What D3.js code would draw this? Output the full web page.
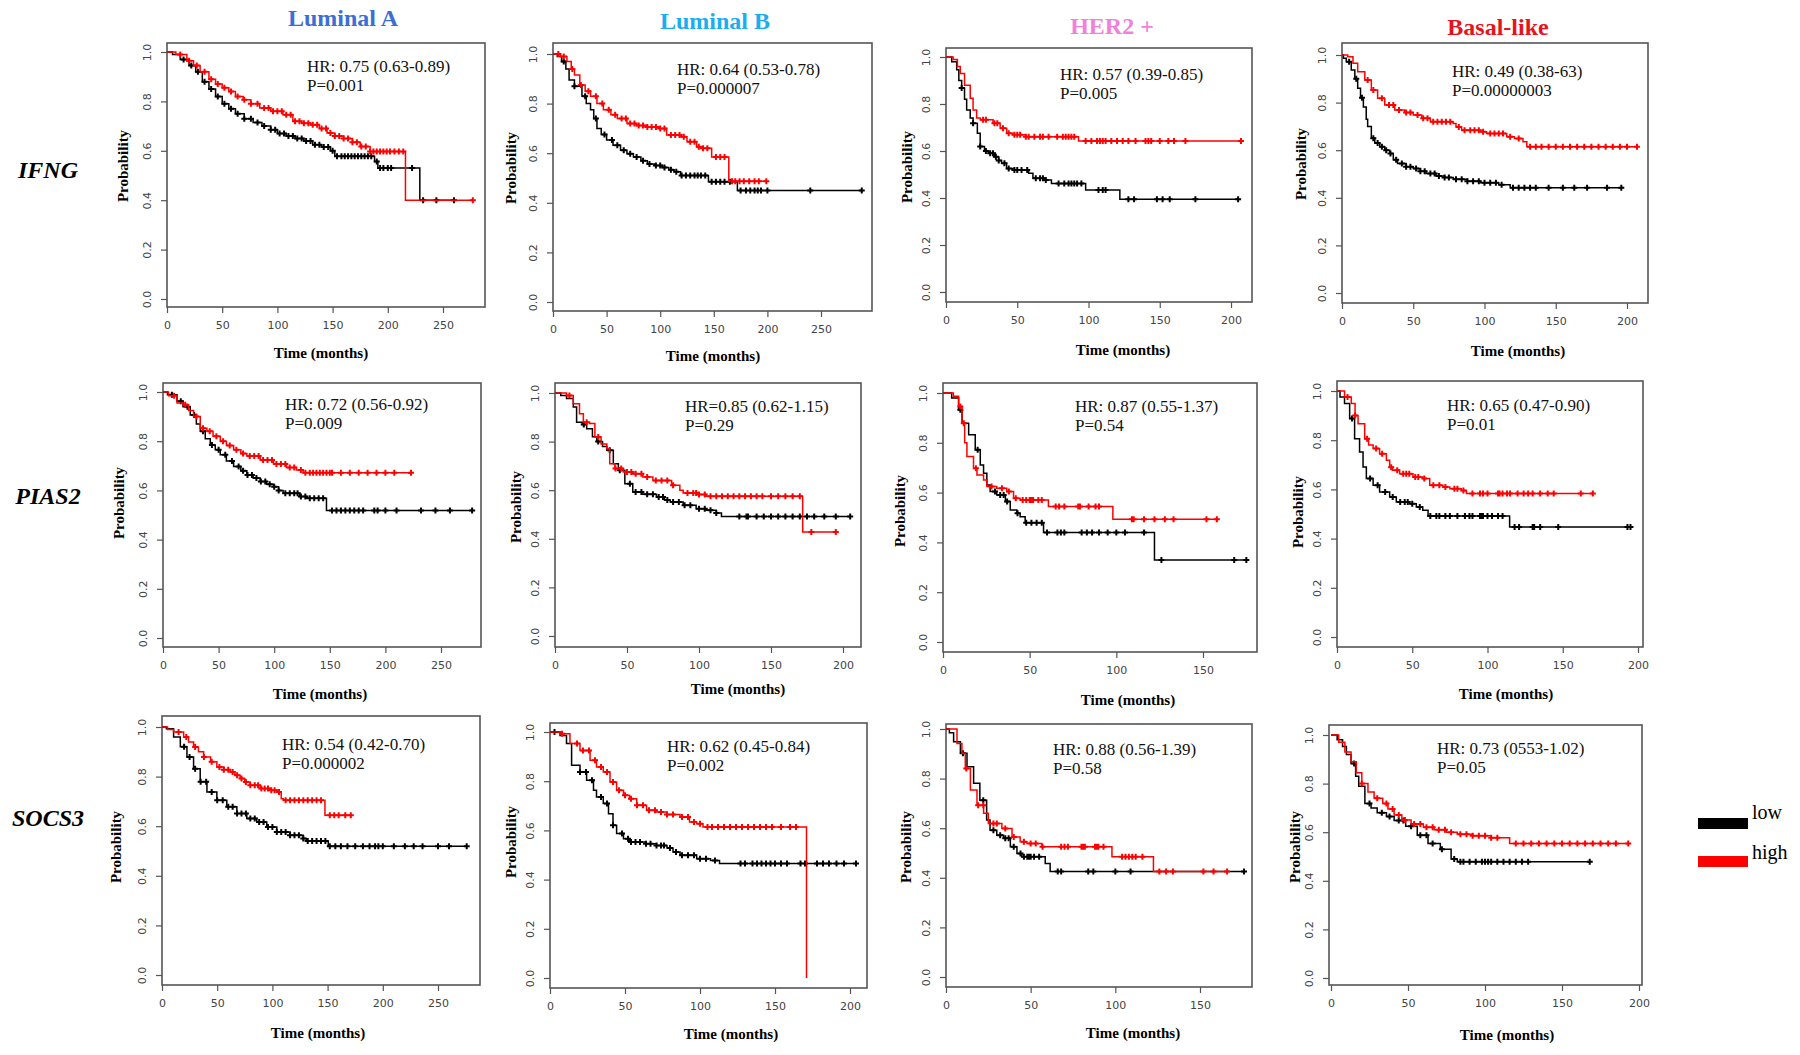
<!DOCTYPE html>
<html><head><meta charset="utf-8">
<script src="https://cdn.jsdelivr.net/npm/d3@7"></script>
<style>body{margin:0;background:#fff}</style>
</head><body>
<svg id="c" width="1800" height="1055"></svg>
<script>
// ---------------- DATA ----------------
const subtypes = ["Luminal A", "Luminal B", "HER2 +", "Basal-like"];
const genes = ["IFNG", "PIAS2", "SOCS3"];
const legendLabels = ["low", "high"];
const yTicks = [0, 0.2, 0.4, 0.6, 0.8, 1.0];
const xTicks250 = [0, 50, 100, 150, 200, 250];
const xTicks200 = [0, 50, 100, 150, 200];
const xTicks150 = [0, 50, 100, 150];
const panelXTicks = [xTicks250, xTicks250, xTicks200, xTicks200,
                     xTicks250, xTicks200, xTicks150, xTicks200,
                     xTicks250, xTicks200, xTicks150, xTicks200];
const hrText = ["HR: 0.75 (0.63-0.89)", "HR: 0.64 (0.53-0.78)", "HR: 0.57 (0.39-0.85)", "HR: 0.49 (0.38-63)",
                "HR: 0.72 (0.56-0.92)", "HR=0.85 (0.62-1.15)", "HR: 0.87 (0.55-1.37)", "HR: 0.65 (0.47-0.90)",
                "HR: 0.54 (0.42-0.70)", "HR: 0.62 (0.45-0.84)", "HR: 0.88 (0.56-1.39)", "HR: 0.73 (0553-1.02)"];
const pText = ["P=0.001", "P=0.000007", "P=0.005", "P=0.00000003",
               "P=0.009", "P=0.29", "P=0.54", "P=0.01",
               "P=0.000002", "P=0.002", "P=0.58", "P=0.05"];

// survival steps [time, probability] for "low" expression (black)
const lowSteps = [
 [[0,1],[5,0.99],[12,0.97],[20,0.945],[26,0.92],[32,0.88],[38,0.85],[44,0.82],[50,0.79],[56,0.77],[62,0.75],[70,0.73],[78,0.715],[86,0.70],[94,0.685],[100,0.67],[108,0.66],[116,0.65],[124,0.64],[132,0.625],[140,0.615],[148,0.60],[152,0.578],[188,0.557],[191,0.53],[229,0.40]],
 [[0,1],[4,0.99],[8,0.97],[12,0.94],[15,0.895],[20,0.87],[27,0.83],[31,0.80],[35,0.775],[38,0.74],[41,0.70],[45,0.675],[50,0.653],[56,0.632],[63,0.612],[69,0.598],[75,0.585],[82,0.57],[88,0.556],[95,0.55],[102,0.542],[108,0.533],[113,0.525],[119,0.51],[145,0.485],[172,0.45]],
 [[0,1],[4,0.98],[7.5,0.946],[9,0.9],[11,0.868],[13,0.82],[14.5,0.775],[17,0.74],[19,0.718],[22,0.676],[24,0.619],[27,0.6],[30,0.59],[34,0.576],[37,0.56],[39,0.548],[42.5,0.526],[47,0.519],[58,0.505],[61,0.484],[70,0.477],[74,0.462],[98,0.434],[122,0.395]],
 [[0,1],[1,0.986],[3,0.972],[6.5,0.937],[9,0.9],[11,0.86],[13,0.82],[15,0.782],[17,0.73],[18,0.70],[20.6,0.65],[23,0.63],[26.5,0.614],[30,0.6],[33.5,0.586],[36,0.56],[39,0.544],[45,0.53],[50,0.523],[55,0.512],[59,0.502],[66,0.492],[72,0.485],[78,0.478],[88,0.47],[97,0.463],[110,0.455],[118,0.442]],
 [[0,1],[4,0.989],[12.6,0.962],[18,0.94],[24.5,0.907],[30,0.87],[33.5,0.84],[38,0.81],[42.5,0.785],[47,0.765],[51.5,0.745],[57,0.72],[63.5,0.697],[70,0.68],[75.4,0.663],[81,0.65],[87.4,0.636],[93,0.625],[99.4,0.615],[104,0.60],[108,0.588],[123,0.575],[129,0.568],[147,0.518]],
 [[0,1],[4,0.99],[8,0.977],[12.7,0.942],[15,0.88],[19,0.87],[22,0.853],[26,0.82],[29,0.80],[33,0.78],[36,0.764],[40.5,0.709],[44,0.682],[48.5,0.627],[54,0.593],[61,0.583],[70.5,0.572],[76,0.56],[80,0.551],[89,0.538],[98,0.524],[105,0.517],[112,0.506],[115.6,0.492]],
 [[0,1],[5,0.98],[9,0.933],[11,0.879],[14.8,0.832],[18.6,0.772],[21.5,0.711],[23.4,0.678],[25.3,0.631],[27.2,0.604],[31,0.59],[36,0.564],[38.8,0.53],[42.6,0.517],[44.5,0.503],[47.4,0.479],[58,0.44],[122,0.329]],
 [[0,1],[2,0.976],[5,0.949],[8.4,0.888],[11.7,0.806],[15,0.752],[17.3,0.691],[19.5,0.644],[24,0.617],[28.3,0.589],[35,0.569],[39.4,0.549],[48,0.542],[52.7,0.528],[57,0.515],[60.5,0.492],[114.7,0.447]],
 [[0,1],[4,0.993],[10.5,0.96],[16.6,0.92],[22.6,0.879],[28.6,0.832],[34.6,0.779],[40.7,0.738],[49.7,0.705],[58.7,0.678],[67.8,0.651],[76.8,0.631],[85.8,0.617],[94.9,0.597],[104,0.577],[116,0.564],[128,0.55],[131,0.54],[150.6,0.519]],
 [[0,1],[6.7,0.986],[11,0.953],[14.4,0.865],[20,0.837],[24.4,0.804],[29,0.763],[31,0.736],[35.5,0.709],[39,0.668],[42,0.621],[44.4,0.587],[49,0.566],[53,0.553],[64,0.546],[71,0.539],[78,0.528],[82,0.512],[86.7,0.499],[97.8,0.485],[107,0.478],[113,0.465]],
 [[0,1],[2,0.985],[4.5,0.949],[8.5,0.902],[12.4,0.848],[16.3,0.781],[20,0.713],[24,0.633],[26,0.592],[30,0.572],[34,0.559],[38,0.525],[41.9,0.498],[44.8,0.485],[58.6,0.458],[61.5,0.425]],
 [[0,1],[4,0.98],[7.5,0.953],[10,0.92],[13,0.883],[16,0.83],[18,0.789],[22,0.718],[26,0.70],[30,0.68],[36,0.665],[41,0.648],[48.5,0.624],[56,0.587],[63,0.554],[71,0.53],[78,0.49],[82,0.478]]
];
// censoring times for "low"
const lowCensor = [
 [15,22,28,34,40,46,52,58,64,70,76,82,88,94,98,102,106,110,114,118,122,126,130,134,138,142,146,150,154,158,161,164,167,170,173,176,179,182,185,190,193,196,200,203,222,232,244,260],
 [10,20,30,40,48,55,60,66,72,78,84,90,96,100,104,110,115,120,124,128,132,135,138,142,148,152,156,160,165,175,180,184,188,191,194,200,240,288],
 [11,19,24,28,31,33,35,37,41,44,48,50,53,57,63,66,68,70,79,83,86,88,90,92,95,107,110,112,128,132,148,152,157,175,205],
 [5,10,14,22,25,28,31,34,38,42,45,48,52,55,58,62,65,68,72,75,80,84,88,92,96,100,104,108,112,120,124,128,132,136,145,155,163,172,186,196],
 [8,16,22,28,36,44,50,56,62,68,72,76,80,84,88,92,96,100,104,110,114,118,121,124,128,132,136,140,144,152,156,160,164,168,172,176,180,190,193,200,210,232,245,258,278],
 [20,30,38,45,52,56,60,64,68,72,75,78,82,86,90,94,100,104,108,112,128,133,134,140,145,150,155,160,165,170,175,180,187,195,205],
 [10,20,30,33,35,37,43,48,51,54,57,60,66,68,70,80,83,86,90,95,100,105,116,126,168,175],
 [10,22,27,32,37,42,45,47,50,55,62,66,68,72,75,80,85,88,90,95,96,97,100,103,107,110,118,121,130,131,135,147,193,195],
 [20,25,30,35,40,45,50,55,60,64,68,72,76,80,84,88,92,96,100,104,108,112,116,120,124,128,132,136,140,144,148,152,157,162,168,175,182,188,193,196,200,210,220,228,236,250,260,276],
 [3,20,24,28,34,38,42,48,52,54,57,60,64,67,71,74,76,80,84,88,92,96,100,104,110,127,130,135,138,141,144,147,150,154,158,167,170,178,182,186,191,196,204],
 [10,22,28,32,35,37,40,44,46,48,49,50,52,55,66,68,84,87,100,109,176],
 [15,25,33,38,44,47,52,58,62,66,72,80,84,86,90,94,98,100,102,104,108,112,116,120,124,128,168]
];
// survival steps for "high" expression (red)
const highSteps = [
 [[0,1],[8,0.99],[18,0.965],[24,0.945],[30,0.92],[38,0.89],[44,0.87],[50,0.855],[56,0.84],[62,0.82],[69,0.807],[76,0.79],[84,0.773],[94,0.76],[105,0.746],[114,0.72],[122,0.712],[130,0.705],[138,0.69],[145,0.672],[152,0.66],[160,0.65],[168,0.635],[175,0.617],[184,0.597],[216,0.40]],
 [[0,1],[7,0.99],[13,0.97],[17,0.94],[20,0.915],[25,0.875],[30,0.85],[35,0.83],[41,0.80],[47,0.775],[54,0.755],[60,0.74],[69,0.72],[78,0.712],[88,0.706],[100,0.70],[106,0.673],[119,0.666],[125,0.646],[134,0.626],[140,0.62],[148,0.585],[164,0.487]],
 [[0,1],[5,0.989],[8,0.96],[10,0.93],[13,0.88],[17,0.825],[19,0.775],[21.5,0.74],[24,0.733],[33,0.718],[38,0.697],[42.6,0.676],[47,0.669],[56,0.661],[93,0.643]],
 [[0,1],[4,0.993],[7.7,0.965],[11,0.93],[16,0.895],[20.6,0.853],[25,0.818],[30,0.79],[37,0.769],[44,0.758],[50,0.748],[56,0.734],[62,0.72],[78,0.712],[80,0.698],[84,0.684],[97,0.677],[101.5,0.67],[115.6,0.656],[121,0.649],[127,0.635],[129.7,0.614]],
 [[0,1],[5,0.985],[12.6,0.955],[18.6,0.948],[23,0.925],[27.5,0.90],[33.5,0.853],[39.5,0.84],[45,0.82],[51.5,0.80],[57,0.783],[63.5,0.765],[70,0.75],[75.4,0.74],[87.4,0.724],[99.4,0.707],[111,0.693],[120,0.683],[126,0.672]],
 [[0,1],[8,0.99],[12.7,0.956],[17,0.915],[19.7,0.88],[24,0.874],[27.7,0.819],[32,0.79],[36,0.771],[38,0.709],[41.6,0.689],[47.4,0.675],[54,0.668],[61,0.654],[68,0.64],[81,0.62],[86.7,0.60],[89,0.588],[100,0.582],[105,0.575],[172,0.428]],
 [[0,1],[6,0.987],[9,0.946],[11,0.879],[12.5,0.80],[13.8,0.745],[17.6,0.698],[19.6,0.671],[23.4,0.651],[25.3,0.624],[31,0.617],[36.8,0.604],[40.7,0.577],[44.5,0.57],[60.8,0.544],[98,0.493]],
 [[0,1],[5,0.976],[9.5,0.949],[12,0.9],[14,0.867],[18.4,0.806],[21,0.78],[24,0.766],[28.3,0.745],[32.8,0.718],[35,0.69],[37,0.678],[41.6,0.664],[50.5,0.65],[57,0.644],[61.6,0.617],[70.4,0.61],[75,0.603],[82.6,0.596],[86,0.583]],
 [[0,1],[5,0.99],[10.5,0.98],[19.6,0.96],[24,0.94],[28.6,0.919],[33,0.9],[37.7,0.879],[44,0.86],[49.7,0.839],[56,0.828],[61.7,0.819],[66,0.805],[70.8,0.792],[75,0.778],[79.8,0.765],[88.9,0.752],[98,0.745],[105,0.738],[108,0.711],[110,0.705],[147.6,0.644]],
 [[0,1],[6.7,0.993],[13.3,0.953],[20,0.925],[26.7,0.885],[31,0.858],[35.5,0.837],[40,0.797],[44.4,0.763],[49,0.743],[53,0.729],[57.8,0.702],[64.4,0.682],[71,0.675],[78,0.665],[86.7,0.654],[93,0.634],[97.8,0.627],[102,0.614],[171,0]],
 [[0,1],[6.5,0.942],[9.4,0.902],[11.4,0.841],[14.4,0.754],[18.3,0.693],[22.2,0.66],[25,0.619],[33,0.599],[39,0.565],[43.8,0.545],[47.8,0.538],[56.6,0.525],[98,0.485],[122.5,0.425]],
 [[0,1],[5,0.97],[9,0.93],[13,0.89],[16.4,0.845],[20,0.80],[24,0.765],[28,0.74],[33.6,0.718],[37,0.695],[41,0.671],[46,0.65],[52,0.634],[60,0.62],[67,0.61],[75,0.60],[82,0.592],[92,0.585],[104,0.577],[116,0.554]]
];
// censoring times for "high"
const highCensor = [
 [12,20,27,34,40,46,52,58,64,70,76,82,88,92,96,100,104,108,112,116,120,124,128,132,136,140,144,148,152,156,160,164,168,172,176,180,184,187,190,193,196,199,202,206,210,214,277],
 [5,10,18,26,33,40,46,52,58,64,68,72,76,80,84,88,92,96,100,104,110,114,118,122,128,132,136,140,144,152,156,160,167,170,174,178,183,188,192,199],
 [26,28,34,36,40,44,48,50,52,56,58,62,66,68,72,78,82,84,86,88,90,98,102,106,108,110,112,116,120,124,128,133,140,142,144,150,156,160,168,207],
 [18,22,28,33,36,40,45,48,53,57,60,64,67,70,73,76,82,86,90,93,96,99,104,107,110,113,118,124,132,136,140,145,150,155,160,165,170,175,180,185,190,195,200,207],
 [10,20,30,36,42,48,54,60,66,72,78,82,86,90,94,98,102,106,110,114,118,124,128,132,135,138,141,144,147,150,152,160,168,176,184,192,200,208,223],
 [10,22,30,42,46,50,53,56,60,64,70,74,78,82,92,96,98,100,104,108,112,116,120,124,128,132,136,140,144,150,155,160,165,170,178,195],
 [10,12,19,28,34,38,42,46,48,50,51,52,55,57,65,67,70,78,79,84,88,90,109,110,116,122,128,133,152,158],
 [7,12,20,26,30,36,40,44,46,48,52,54,58,64,68,72,78,80,84,90,95,97,100,107,108,110,113,115,120,124,127,130,135,140,144,162,170],
 [15,22,30,38,45,52,56,60,64,68,72,76,80,84,87,90,93,96,99,102,106,112,116,120,124,128,132,136,140,144,152,156,160,166,171],
 [8,18,22,26,30,34,38,42,46,50,54,58,62,66,70,74,78,82,88,92,96,100,105,108,112,116,120,124,128,132,136,140,144,148,154,160,164],
 [12,19,22,28,30,35,40,46,50,53,57,68,70,72,80,81,82,88,89,90,93,104,106,108,110,112,116,126,130,134,152,158,166],
 [20,30,36,40,44,48,54,58,62,66,70,74,78,84,88,92,96,100,104,108,120,125,130,135,140,145,150,155,160,165,170,175,180,185,193]
];

// ---------------- LAYOUT / STYLE ----------------
const subtypeColors = ["#3b6fd4", "#1aaef0", "#f37fdd", "#e8121c"];
const seriesColors = ["#000000", "#ff0000"];
// panel box [left, top, right, bottom]
const boxes = [
 [167,43,485,307],[553,43,872,311],[946,48,1252,302],[1342,43,1648,303],
 [163,383,481,647],[555,383,861,647],[943,383,1257,652],[1337,381,1643,647],
 [162,716,480,985],[550,723,867,988],[946,724,1252,987],[1329,725,1642,985]
];
// pixel range for x axis [x at 0, x at last tick], y axis [y at 1.0, y at 0.0]
const xRanges = [[167,443],[553,821],[946,1231],[1342,1627],[163,441],[555,843],[943,1203],[1337,1638],[162,438],[550,850],[946,1200],[1331,1639]];
const yRanges = [[52,299],[54,302],[57,292],[55,293],[392,638],[393,636],[393,642],[391,637],[727,975],[732,978],[729,977],[735,978]];
const hrPos = [[307,72],[677,75],[1060,80],[1452,77],[285,410],[685,412],[1075,412],[1447,411],[282,750],[667,752],[1053,755],[1437,754]];
const xLabelPos = [[321,358],[713,361],[1123,355],[1518,356],[320,699],[738,694],[1128,705],[1506,699],[318,1038],[731,1039],[1133,1038],[1507,1040]];
const yLabelPos = [[128,166],[516,168],[912,167],[1306,164],[124,503],[521,507],[905,511],[1303,512],[121,847],[516,842],[911,847],[1300,847]];
const titlePos = [[343,26],[715,29],[1112,34],[1498,35]];
const genePos = [[48,178],[48,504],[48,826]];

const svg = d3.select("#c");
svg.append("rect").attr("width",1800).attr("height",1055).attr("fill","#fff");
const serif = "'Liberation Serif', 'Times New Roman', serif";

// column titles
subtypes.forEach((s,i) => {
  svg.append("text").attr("x", titlePos[i][0]).attr("y", titlePos[i][1])
    .attr("text-anchor","middle").attr("font-family", serif).attr("font-weight","bold")
    .attr("font-size", 24).attr("fill", subtypeColors[i]).text(s);
});
// row labels
genes.forEach((g,i) => {
  svg.append("text").attr("x", genePos[i][0]).attr("y", genePos[i][1])
    .attr("text-anchor","middle").attr("font-family", serif).attr("font-weight","bold")
    .attr("font-style","italic").attr("font-size", 24).attr("fill","#000").text(g);
});

function survAt(steps, t) {
  const idx = d3.bisector(d => d[0]).right(steps, t) - 1;
  return steps[Math.max(0, idx)][1];
}

for (let i = 0; i < 12; i++) {
  const [L,T,R,B] = boxes[i];
  const ticks = panelXTicks[i];
  const x = d3.scaleLinear().domain([0, ticks[ticks.length-1]]).range(xRanges[i]);
  const y = d3.scaleLinear().domain([0, 1]).range([yRanges[i][1], yRanges[i][0]]);
  const g = svg.append("g");

  // axes
  const xa = g.append("g").attr("transform", `translate(0,${B})`)
    .call(d3.axisBottom(x).tickValues(ticks).tickSize(6).tickPadding(8));
  const ya = g.append("g").attr("transform", `translate(${L},0)`)
    .call(d3.axisLeft(y).tickValues(yTicks).tickFormat(d3.format(".1f")).tickSize(6));
  [xa, ya].forEach(a => {
    a.select(".domain").remove();
    a.selectAll("line").attr("stroke", "#555").attr("stroke-width", 1.2);
    a.selectAll("text").attr("font-family", "'DejaVu Sans', sans-serif").attr("font-size", 11).attr("fill", "#444");
  });
  ya.selectAll("text").attr("x", null).attr("dy", null).attr("text-anchor", "middle")
    .attr("transform", "translate(-16,0) rotate(-90)");

  // box
  g.append("rect").attr("x", L).attr("y", T).attr("width", R-L).attr("height", B-T)
    .attr("fill", "none").attr("stroke", "#555").attr("stroke-width", 1.6);

  // axis labels
  g.append("text").attr("x", xLabelPos[i][0]).attr("y", xLabelPos[i][1]).attr("text-anchor","middle")
    .attr("font-family", serif).attr("font-weight","bold").attr("font-size", 15).text("Time (months)");
  g.append("text").attr("transform", `translate(${yLabelPos[i][0]},${yLabelPos[i][1]}) rotate(-90)`)
    .attr("text-anchor","middle").attr("font-family", serif).attr("font-weight","bold")
    .attr("font-size", 15).text("Probability");

  // curves
  const line = d3.line().x(d => x(d[0])).y(d => y(d[1])).curve(d3.curveStepAfter);
  [[lowSteps[i], lowCensor[i]], [highSteps[i], highCensor[i]]].forEach(([steps, cens], k) => {
    const last = steps[steps.length-1];
    const end = Math.max(last[0], d3.max(cens));
    const pts = steps.concat([[end, last[1]]]);
    g.append("path").attr("d", line(pts)).attr("fill","none")
      .attr("stroke", seriesColors[k]).attr("stroke-width", 1.5);
    g.append("path").attr("fill","none").attr("stroke", seriesColors[k]).attr("stroke-width", 2)
      .attr("d", cens.map(t => {
        const cx = x(t), cy = y(survAt(steps, t));
        return `M${cx-3},${cy}h6M${cx},${cy-3}v6`;
      }).join(""));
  });

  // HR / P text
  const ht = g.append("text").attr("font-family", serif).attr("font-size", 17).attr("fill", "#111");
  ht.append("tspan").attr("x", hrPos[i][0]).attr("y", hrPos[i][1]).text(hrText[i]);
  ht.append("tspan").attr("x", hrPos[i][0]).attr("y", hrPos[i][1] + 19).text(pText[i]);
}

// legend
legendLabels.forEach((lab, k) => {
  const yy = [818, 856][k];
  svg.append("rect").attr("x", 1698).attr("y", yy).attr("width", 50).attr("height", 11).attr("fill", seriesColors[k]);
  svg.append("text").attr("x", 1752).attr("y", [819, 859][k]).attr("font-family", serif)
    .attr("font-size", 20).attr("fill", "#000").text(lab);
});
</script>
</body></html>
